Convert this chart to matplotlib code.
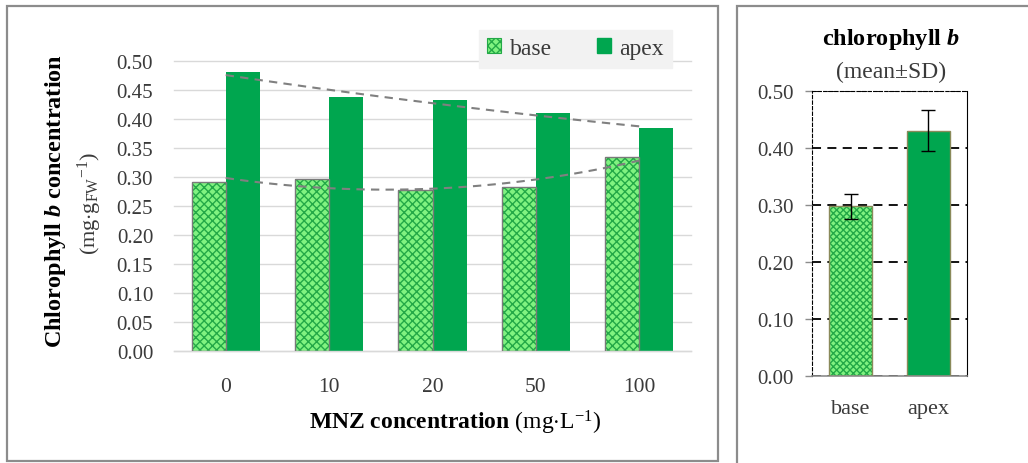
import numpy as np
import matplotlib
matplotlib.use("Agg")
import matplotlib.pyplot as plt
from matplotlib.patches import Patch, Rectangle

# ---- data ----
categories = ["0", "10", "20", "50", "100"]
base_vals = [0.291, 0.296, 0.278, 0.283, 0.335]
apex_vals = [0.481, 0.438, 0.433, 0.411, 0.384]
yticks_left = [0.00, 0.05, 0.10, 0.15, 0.20, 0.25, 0.30, 0.35, 0.40, 0.45, 0.50]

summary_labels = ["base", "apex"]
summary_means = [0.297, 0.430]
summary_sd = [0.022, 0.036]
yticks_right = [0.00, 0.10, 0.20, 0.30, 0.40, 0.50]

# ---- style ----
plt.rcParams['font.family'] = ['Liberation Serif', 'DejaVu Serif']
plt.rcParams['mathtext.fontset'] = 'custom'
plt.rcParams['mathtext.rm'] = 'Liberation Serif'
plt.rcParams['mathtext.it'] = 'Liberation Serif:italic'
plt.rcParams['mathtext.bf'] = 'Liberation Serif:bold'
plt.rcParams['mathtext.bfit'] = 'Liberation Serif:italic:bold'
plt.rcParams['hatch.linewidth'] = 1.0

W, H = 1028, 464
fig = plt.figure(figsize=(W / 100, H / 100), dpi=100)

def fx(p):
    return p / W

def fy(p):
    return 1 - p / H

LIGHT = '#80F280'
HATCHC = '#23A847'
APEX = '#00A64F'
TXT = '#3A3A3A'

# panel borders
fig.patches.append(Rectangle((fx(7), fy(462)), fx(718) - fx(7), fy(7) - fy(462),
                             transform=fig.transFigure, fill=False,
                             edgecolor='#8C8C8C', linewidth=1.6, zorder=0))
fig.patches.append(Rectangle((fx(737), fy(470)), fx(1040) - fx(737), fy(7) - fy(470),
                             transform=fig.transFigure, fill=False,
                             edgecolor='#8C8C8C', linewidth=1.6, zorder=0))

# ---- left chart ----
ax = fig.add_axes([fx(174), fy(352), fx(691) - fx(174), (352 - 62) / H])
x = np.arange(len(categories))
bw = 0.33
ax.bar(x - bw / 2, base_vals, bw, facecolor=LIGHT, hatch='xxxx',
       edgecolor=HATCHC, linewidth=0, zorder=2)
ax.bar(x - bw / 2, base_vals, bw, fill=False, edgecolor='#7A7A7A',
       linewidth=1.0, zorder=3)
ax.bar(x + bw / 2, apex_vals, bw, color=APEX, linewidth=0, zorder=2)

# polynomial trendlines (order 2)
xs = np.linspace(0, 4, 100)
for vals in (base_vals, apex_vals):
    c = np.polyfit(x, vals, 2)
    ax.plot(xs, np.polyval(c, xs), color='#808080', linewidth=1.5,
            dashes=(4, 3), zorder=4)

ax.set_xlim(-0.5, len(categories) - 0.5)
ax.set_ylim(0, 0.5)
ax.set_yticks(yticks_left)
ax.set_yticklabels([f"{v:.2f}" for v in yticks_left], fontsize=15, color=TXT)
ax.set_xticks(x)
ax.set_xticklabels(categories, fontsize=15.5, color=TXT)
ax.tick_params(axis='y', length=0, pad=15)
ax.tick_params(axis='x', length=0, pad=19)
ax.grid(axis='y', color='#D9D9D9', linewidth=1.0, zorder=0)
ax.set_axisbelow(True)
for s in ('left', 'right', 'top'):
    ax.spines[s].set_visible(False)
ax.spines['bottom'].set_color('#D9D9D9')
ax.spines['bottom'].set_linewidth(1.0)
for gl in ax.get_ygridlines():
    gl.set_clip_on(False)

fig.text(fx(56), fy(201), r"$\mathbf{Chlorophyll}$ $\mathbfit{b}$ $\mathbf{concentration}$",
         rotation=90, ha='center', va='center', fontsize=17.5, color='black')
fig.text(fx(90), fy(204), r"(mg$\cdot$g$_{\mathrm{FW}}$$^{\mathrm{-1}}$)",
         rotation=90, ha='center', va='center', fontsize=16, color=TXT)
fig.text(fx(455), fy(423), r"$\mathbf{MNZ\ concentration}$ (mg$\cdot$L$^{\mathrm{-1}}$)",
         ha='center', va='center', fontsize=17, color='black')

handles = [Patch(facecolor=LIGHT, hatch='xxxx', edgecolor=HATCHC, linewidth=0.8, label='base'),
           Patch(facecolor=APEX, edgecolor=APEX, label='apex')]
leg = fig.legend(handles=handles, loc='upper right', ncol=2,
                 bbox_to_anchor=(fx(672), fy(31)), frameon=True, fancybox=False,
                 facecolor='#F2F2F2', edgecolor='#F2F2F2', framealpha=1,
                 fontsize=17, handlelength=0.6, handleheight=0.6,
                 handletextpad=0.35, columnspacing=1.9, borderpad=0.35,
                 borderaxespad=0)
for t in leg.get_texts():
    t.set_color(TXT)

# ---- right chart ----
ax2 = fig.add_axes([fx(811.7), fy(376.7), (967.3 - 811.7) / W, (376.7 - 91.7) / H])
x2 = np.arange(len(summary_labels))
bw2 = 0.56
ax2.bar(x2[0], summary_means[0], bw2, facecolor=LIGHT, hatch='xxxxx',
        edgecolor=HATCHC, linewidth=0, zorder=2)
ax2.bar(x2, summary_means, bw2, fill=False, edgecolor='#8A8A5A',
        linewidth=1.0, zorder=3)
ax2.bar(x2[1], summary_means[1], bw2, color=APEX, linewidth=0, zorder=2)
ax2.errorbar(x2, summary_means, yerr=summary_sd, fmt='none', ecolor='black',
             elinewidth=1.0, capsize=5, capthick=1.0, zorder=4)
ax2.set_xlim(-0.5, 1.5)
ax2.set_ylim(0, 0.5)
ax2.set_yticks(yticks_right)
ax2.set_yticklabels([f"{v:.2f}" for v in yticks_right], fontsize=15, color=TXT)
ax2.set_xticks(x2)
ax2.set_xticklabels(summary_labels, fontsize=16, color=TXT)
ax2.tick_params(axis='y', length=5, width=1, color='#8C8C8C', pad=8)
ax2.tick_params(axis='x', length=0, pad=17)
ax2.grid(axis='y', color='black', linewidth=1.3, linestyle=(0, (5, 3.5)), zorder=0)
ax2.set_axisbelow(True)
ax2.spines['left'].set_linestyle((0, (3, 2)))
ax2.spines['left'].set_linewidth(0.8)
ax2.spines['top'].set_linestyle((0, (3, 2)))
ax2.spines['top'].set_linewidth(0.8)
ax2.spines['right'].set_linewidth(0.8)
ax2.spines['bottom'].set_color('#8C8C8C')
ax2.spines['bottom'].set_linewidth(1.2)

fig.text(fx(891), fy(40), r"$\mathbf{chlorophyll}$ $\mathbfit{b}$",
         ha='center', va='center', fontsize=17.5, color='black')
fig.text(fx(891), fy(72), "(mean±SD)", ha='center', va='center',
         fontsize=17, color=TXT)

fig.savefig("out.png", dpi=100)
